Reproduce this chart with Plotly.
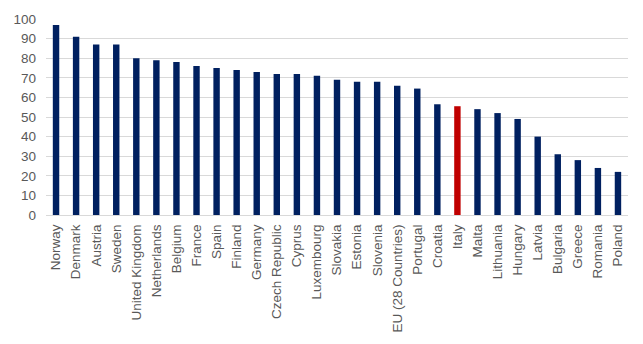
import plotly.graph_objects as go

countries = ["Norway", "Denmark", "Austria", "Sweden", "United Kingdom", "Netherlands",
             "Belgium", "France", "Spain", "Finland", "Germany", "Czech Republic", "Cyprus",
             "Luxembourg", "Slovakia", "Estonia", "Slovenia", "EU (28 Countries)", "Portugal",
             "Croatia", "Italy", "Malta", "Lithuania", "Hungary", "Latvia", "Bulgaria",
             "Greece", "Romania", "Poland"]
values = [97, 91, 87, 87, 80, 79, 78, 76, 75, 74, 73, 72, 72, 71, 69, 68, 68, 66, 64.5,
          56.5, 55.5, 54, 52, 49, 40, 31, 28, 24, 22]
highlight = "Italy"
y_ticks = list(range(0, 101, 10))

colors = ["#C00000" if c == highlight else "#002060" for c in countries]

fig = go.Figure(go.Bar(x=countries, y=values, marker_color=colors, marker_line_width=0))
fig.update_layout(
    width=643, height=344,
    margin=dict(l=46, r=15, t=14, b=128),
    plot_bgcolor="white", paper_bgcolor="white",
    bargap=0.68,
    showlegend=False,
    font=dict(family="Liberation Sans, Arial", color="#595959"),
)
fig.update_xaxes(tickangle=-90, tickfont=dict(size=13.5), showline=True, linecolor="#d9d9d9",
                 ticks="", showgrid=False, ticklabelstandoff=3)
fig.update_yaxes(range=[0, 100], tickvals=y_ticks, tickfont=dict(size=13.5), showgrid=True,
                 gridcolor="#d9d9d9", zeroline=False, ticks="", ticklabelstandoff=9)
fig.write_html("out.html")
